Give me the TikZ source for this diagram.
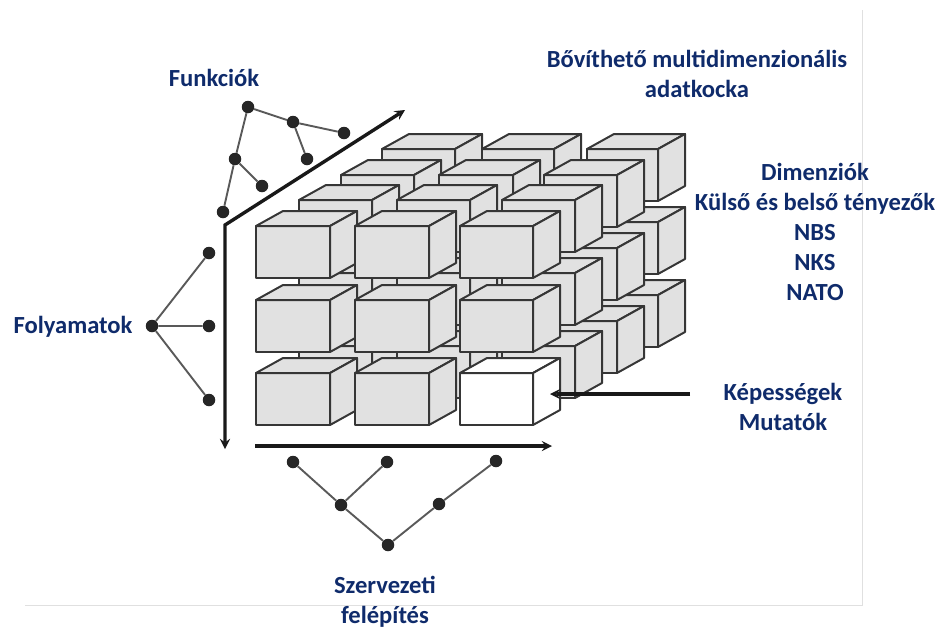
\documentclass[tikz,border=0pt]{standalone}
\usepackage{fontspec}
\setmainfont{Carlito}
\definecolor{labelblue}{HTML}{0F2B6B}
\definecolor{cubegray}{HTML}{E1E1E1}
\definecolor{cubeline}{HTML}{363636}
\tikzset{
  dotnode/.style={circle,fill=black!85,inner sep=0pt,minimum size=12.5pt},
  dotline/.style={line width=1.9pt,black!65},
  axisline/.style={line width=3.4pt,black!90,>=stealth,line join=miter},
  labeltext/.style={text=labelblue,font=\fontsize{24.6}{30}\selectfont\bfseries,align=center,inner sep=0pt},
}
% x, y of the front face's top left corner, width, fill
\newcommand{\cube}[4]{
  \begin{scope}[draw=cubeline,line width=2pt,line join=round,fill=#4]
    \filldraw (#1,#2) rectangle ++(#3,52);
    \filldraw (#1,#2) -- ++(27,-15) -- ++(#3,0) -- ++(-27,15) -- cycle;
    \filldraw (#1+#3,#2) -- ++(27,-15) -- ++(0,52) -- ++(-27,15) -- cycle;
  \end{scope}
}
\begin{document}
\begin{tikzpicture}[x=1pt,y=-1pt]
  \useasboundingbox (0,0) rectangle (942,630);
  \draw[black!12,line width=.7pt] (862,10)--(862,605)--(25,605);
  % layers of the cube, back to front
  \foreach \ytop in {149,222,295}
    \foreach \xleft/\wide in {382/73,482/72,587/71}
      \cube{\xleft}{\ytop}{\wide}{cubegray};
  \foreach \ytop in {175,248,321}
    \foreach \xleft/\wide in {341/73,439/74,544/73}
      \cube{\xleft}{\ytop}{\wide}{cubegray};
  \foreach \ytop in {200,273,346}
    \foreach \xleft/\wide in {299/73,397/73,502/73}
      \cube{\xleft}{\ytop}{\wide}{cubegray};
  \foreach \ytop in {226,300}
    \foreach \xleft/\wide in {256/74,355/74,460/73}
      \cube{\xleft}{\ytop}{\wide}{cubegray};
  \cube{256}{373}{74}{cubegray}
  \cube{355}{373}{74}{cubegray}
  \cube{460}{373}{73}{white}
  % axes
  \coordinate (axisup) at (405,110);
  \coordinate (axiscorner) at (225,225);
  \coordinate (axisdown) at (225,449);
  \coordinate (axisleft) at (255,446);
  \coordinate (axisright) at (552,446);
  \draw[axisline,<->] (axisup)--(axiscorner)--(axisdown);
  \draw[axisline,->] (axisleft)--(axisright);
  \coordinate (pointfrom) at (690,394);
  \coordinate (pointto) at (550,394);
  \draw[axisline,->] (pointfrom)--(pointto);
  % Funkciok tree
  \node[dotnode] (fa) at (248,107) {};
  \node[dotnode] (fb) at (293,122) {};
  \node[dotnode] (fc) at (344,133) {};
  \node[dotnode] (fd) at (307,159) {};
  \node[dotnode] (fe) at (235,159) {};
  \node[dotnode] (ff) at (262,186) {};
  \node[dotnode] (fg) at (223,212) {};
  \draw[dotline] (fa)--(fb) (fb)--(fc) (fb)--(fd) (fa)--(fe) (fe)--(ff) (fe)--(fg);
  % Folyamatok tree
  \node[dotnode] (pa) at (152,326) {};
  \node[dotnode] (pb) at (209,253) {};
  \node[dotnode] (pc) at (209,326) {};
  \node[dotnode] (pd) at (209,400) {};
  \draw[dotline] (pa)--(pb) (pa)--(pc) (pa)--(pd);
  % Szervezeti tree
  \node[dotnode] (sa) at (293,462) {};
  \node[dotnode] (sb) at (387,462) {};
  \node[dotnode] (sc) at (496,461) {};
  \node[dotnode] (sd) at (341,505) {};
  \node[dotnode] (se) at (439,504) {};
  \node[dotnode] (sf) at (388,545) {};
  \draw[dotline] (sa)--(sd) (sb)--(sd) (sd)--(sf) (sf)--(se) (se)--(sc);
  % labels
  \node[labeltext] (funkciok) at (214,78) {Funkciók};
  \node[labeltext] (folyamatok) at (73,327) {Folyamatok};
  \node[labeltext] (adatkocka) at (697,74) {Bővíthető multidimenzionális\\adatkocka};
  \node[labeltext] (dimenziok) at (815,232) {Dimenziók\\Külső és belső tényezők\\NBS\\NKS\\NATO};
  \node[labeltext] (kepessegek) at (783,407) {Képességek\\Mutatók};
  \node[labeltext] (szervezeti) at (385,602) {Szervezeti\\felépítés};
\end{tikzpicture}
\end{document}
